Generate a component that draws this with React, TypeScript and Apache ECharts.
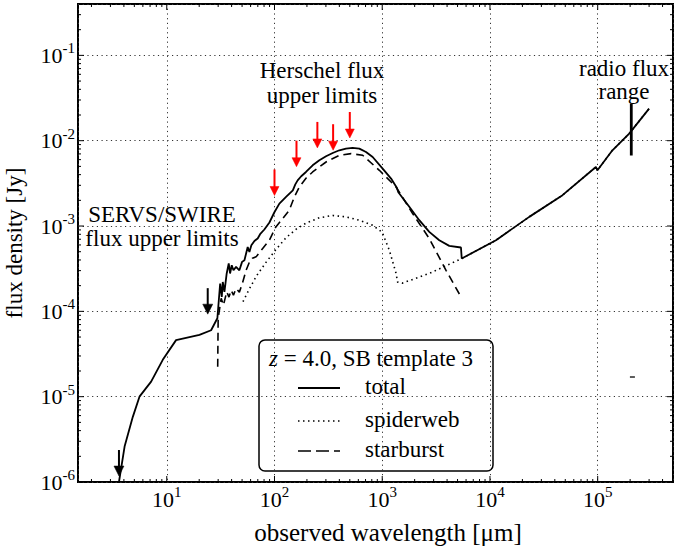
import React, { useEffect, useRef } from 'react';
import * as echarts from 'echarts';

const FONT = 'Liberation Serif';
const font = (size: number, italic = false) => `${italic ? 'italic ' : ''}${size}px Liberation Serif`;

// ---------- data (wavelength in micron, flux density in Jy) ----------
const totalWavelength = [
  3.6, 4.06, 4.84, 5.58, 7.16, 9.18, 12.2, 20.1, 25.8, 29.5,
  31.3, 32.4, 33.1, 34.3, 36.0, 37.6, 38.7, 40.1, 41.6, 44.0,
  47.2, 50.0, 52.6, 54.5, 56.4, 58.5, 61.0, 65.1, 69.8, 73.5,
  80.5, 89.7, 99.8, 111, 128, 148, 156, 164, 177, 196,
  226, 261, 301, 347, 400, 461, 531, 613, 707, 815,
  1009, 1208, 1366, 1410, 1783, 2207, 2733, 3385, 4190, 5380,
  5470, 11370, 23150, 47150, 96200, 99500, 137000, 196000, 300000,
];
const totalFlux = [
  1.0e-6, 2.6e-6, 5.8e-6, 1.0e-5, 1.5e-5, 2.7e-5, 4.6e-5, 5.3e-5, 6.0e-5, 8.3e-5,
  2.12e-4, 1.48e-4, 2.21e-4, 1.69e-4, 2.78e-4, 3.64e-4, 2.78e-4, 3.47e-4, 3.03e-4, 3.32e-4,
  3.03e-4, 3.8e-4, 3.98e-4, 4.77e-4, 5.69e-4, 4.97e-4, 5.96e-4, 6.69e-4, 7.14e-4, 8.02e-4,
  9.1e-4, 1.1e-3, 1.45e-3, 1.83e-3, 2.19e-3, 2.62e-3, 3.08e-3, 3.43e-3, 3.83e-3, 4.3e-3,
  5.15e-3, 5.89e-3, 6.56e-3, 7.18e-3, 7.72e-3, 8.08e-3, 8.22e-3, 8.08e-3, 7.38e-3, 6.44e-3,
  4.71e-3, 3.6e-3, 2.81e-3, 2.49e-3, 1.68e-3, 1.17e-3, 8.53e-4, 6.82e-4, 5.85e-4, 5.6e-4,
  4.16e-4, 6.82e-4, 1.28e-3, 2.3e-3, 4.92e-3, 4.5e-3, 7.72e-3, 1.21e-2, 2.38e-2,
];

const starburstWavelength = [
  29.7, 30.0, 32.0, 33.6, 36.0, 37.8, 39.6, 41.6, 44.0, 47.2,
  50.4, 54.5, 58.5, 62.4, 67.5, 77.7, 89.7, 103, 119, 137,
  153, 170, 196, 226, 301, 400, 514, 658, 940, 1343,
  1916, 2733, 3909, 5380,
];
const starburstFlux = [
  2.24e-5, 8.3e-5, 1.42e-4, 1.18e-4, 1.69e-4, 1.47e-4, 1.77e-4, 1.55e-4, 1.85e-4, 1.68e-4,
  2.14e-4, 3.03e-4, 3.77e-4, 4.2e-4, 4.35e-4, 5.46e-4, 6.82e-4, 9.76e-4, 1.22e-3, 1.53e-3,
  2.19e-3, 2.87e-3, 3.63e-3, 4.3e-3, 5.63e-3, 6.75e-3, 7.06e-3, 6.75e-3, 4.5e-3, 2.87e-3,
  1.4e-3, 7.14e-4, 3.03e-4, 1.48e-4,
];

const spiderwebWavelength = [
  51, 58, 68, 84, 103, 128, 159, 196, 261, 347,
  461, 613, 815, 1000, 1164, 1343, 1389, 1536, 2733, 5470,
  11370, 23150, 47150, 96200, 99500, 137000, 196000, 300000,
];
const spiderwebFlux = [
  1.3e-4, 1.8e-4, 2.6e-4, 3.8e-4, 5.3e-4, 7.3e-4, 9.2e-4, 1.08e-3, 1.25e-3, 1.33e-3,
  1.28e-3, 1.17e-3, 1.02e-3, 8.45e-4, 5.2e-4, 2.8e-4, 2.2e-4, 2.14e-4, 2.78e-4, 4.16e-4,
  6.82e-4, 1.28e-3, 2.3e-3, 4.92e-3, 4.5e-3, 7.72e-3, 1.21e-2, 2.38e-2,
];

const herschelWavelength = [100, 160, 250, 350, 500];
const herschelLimit = [4.6e-3, 1.0e-2, 1.66e-2, 1.56e-2, 2.17e-2];

const servsWavelength = [3.6, 24];
const servsLimit = [2.37e-6, 1.87e-4];

const radioWavelength = [2.05e5, 2.05e5];
const radioRange = [6.7e-3, 2.72e-2];

const radioPointWavelength = [2.1e5];
const radioPointFlux = [1.7e-5];

const xMajorTicks = [10, 100, 1000, 10000, 100000];
const yMajorTicks = [1e-6, 1e-5, 1e-4, 1e-3, 1e-2, 1e-1];
const X_MIN = 1.5;
const X_MAX = 5e5;
const Y_MIN = 1e-6;
const Y_MAX = 0.4;

const legendTitle = '{i|z}{n| = 4.0, SB template 3}';
const legendItems = ['total', 'spiderweb', 'starburst'];

// ---------- helpers ----------
const zip = (a: number[], b: number[]) => a.map((v, i) => [v, b[i]]);

function minorValues(lo: number, hi: number) {
  const out: number[] = [];
  for (let e = -7; e <= 6; e++) {
    for (let m = 2; m <= 9; m++) {
      const v = m * Math.pow(10, e);
      if (v > lo && v < hi) out.push(v);
    }
  }
  return out;
}

const tickData: number[][] = [];
xMajorTicks.forEach((v) => tickData.push([v, 1e-3, 0]));
minorValues(X_MIN, X_MAX).forEach((v) => tickData.push([v, 1e-3, 1]));
yMajorTicks.forEach((v) => tickData.push([10, v, 2]));
minorValues(Y_MIN, Y_MAX).forEach((v) => tickData.push([10, v, 3]));

const powLabel = (v: number) => {
  const e = Math.log10(v);
  const r = Math.round(e);
  if (Math.abs(e - r) > 1e-6) return '';
  return `{b|10}{s|${r}}`;
};

const labelRich = {
  b: { fontFamily: FONT, fontSize: 22, lineHeight: 22, color: '#000', verticalAlign: 'middle' },
  s: { fontFamily: FONT, fontSize: 15, lineHeight: 15, color: '#000', verticalAlign: 'middle', padding: [0, 0, 14, 0] },
};

function arrowRenderer(color: string, headW: number, headH: number, lw: number) {
  return (params: any, api: any) => {
    const p = api.coord([api.value(0), api.value(1)]);
    const len = 26;
    const tipY = p[1] + len;
    return {
      type: 'group',
      children: [
        {
          type: 'line',
          shape: { x1: p[0], y1: p[1], x2: p[0], y2: tipY - headH + 1 },
          style: { stroke: color, lineWidth: lw },
        },
        {
          type: 'polygon',
          shape: { points: [[p[0] - headW / 2, tipY - headH], [p[0] + headW / 2, tipY - headH], [p[0], tipY]] },
          style: { fill: color, stroke: color, lineWidth: 0.5 },
        },
      ],
    };
  };
}

const textStyle = (text: string, size: number, extra: any = {}) => ({
  text, font: font(size), fill: '#000', ...extra,
});

export default function App() {
  const ref = useRef<HTMLDivElement>(null);

  useEffect(() => {
    if (!ref.current) return;
    const chart = echarts.init(ref.current, null, { renderer: 'svg' });

    const axisCommon = {
      axisLine: { show: false },
      axisTick: { show: false },
      splitLine: { show: true, lineStyle: { type: [1.2, 3.5], color: '#333', width: 1 } },
    };

    const option: any = {
      animation: false,
      backgroundColor: '#fff',
      grid: {
        left: 78, right: 1, top: 4, bottom: 67,
        show: true, borderColor: '#000', borderWidth: 2, backgroundColor: 'transparent',
      },
      xAxis: {
        type: 'log', logBase: 10, min: X_MIN, max: X_MAX,
        ...axisCommon,
        axisLabel: { margin: 6, formatter: powLabel, rich: labelRich, showMinLabel: false, showMaxLabel: false },
      },
      yAxis: {
        type: 'log', logBase: 10, min: Y_MIN, max: Y_MAX,
        ...axisCommon,
        axisLabel: { margin: 3, formatter: powLabel, rich: labelRich, showMaxLabel: false },
      },
      series: [
        {
          name: 'spiderweb', type: 'line', data: zip(spiderwebWavelength, spiderwebFlux),
          symbol: 'none', z: 2, clip: true,
          lineStyle: { color: '#000', width: 1.6, type: [1.5, 3.5] },
        },
        {
          name: 'starburst', type: 'line', data: zip(starburstWavelength, starburstFlux),
          symbol: 'none', z: 2, clip: true,
          lineStyle: { color: '#000', width: 1.6, type: [8, 5] },
        },
        {
          name: 'total', type: 'line', data: zip(totalWavelength, totalFlux),
          symbol: 'none', z: 3, clip: true,
          lineStyle: { color: '#000', width: 1.8, type: 'solid' },
        },
        {
          name: 'radio range', type: 'line', data: zip(radioWavelength, radioRange),
          symbol: 'none', z: 4, lineStyle: { color: '#000', width: 2.8 },
        },
        {
          name: 'radio point', type: 'scatter', data: zip(radioPointWavelength, radioPointFlux),
          symbol: 'rect', symbolSize: [5, 1.6], itemStyle: { color: '#000' }, z: 4,
        },
        {
          name: 'Herschel', type: 'custom', data: zip(herschelWavelength, herschelLimit),
          renderItem: arrowRenderer('#ff0000', 9, 9, 2), z: 5, clip: false,
        },
        {
          name: 'SERVS', type: 'custom', data: zip(servsWavelength, servsLimit),
          renderItem: arrowRenderer('#000', 10, 10, 2), z: 5, clip: false,
        },
        {
          name: 'ticks', type: 'custom', data: tickData, z: 6, clip: false, silent: true,
          renderItem: (params: any, api: any) => {
            const cs = params.coordSys;
            const kind = api.value(2);
            const p = api.coord([api.value(0), api.value(1)]);
            const len = kind % 2 === 0 ? 6 : 3;
            const st = { stroke: '#000', lineWidth: 1 };
            if (kind < 2) {
              const x = p[0];
              return {
                type: 'group',
                children: [
                  { type: 'line', shape: { x1: x, y1: cs.y + cs.height, x2: x, y2: cs.y + cs.height - len }, style: st },
                  { type: 'line', shape: { x1: x, y1: cs.y, x2: x, y2: cs.y + len }, style: st },
                ],
              };
            }
            const y = p[1];
            return {
              type: 'group',
              children: [
                { type: 'line', shape: { x1: cs.x, y1: y, x2: cs.x + len, y2: y }, style: st },
                { type: 'line', shape: { x1: cs.x + cs.width, y1: y, x2: cs.x + cs.width - len, y2: y }, style: st },
              ],
            };
          },
        },
      ],
      graphic: [
        {
          type: 'text', x: 14, y: 243, rotation: Math.PI / 2,
          style: textStyle('flux density [Jy]', 23, { align: 'center', verticalAlign: 'middle' }),
        },
        {
          type: 'text', x: 388, y: 532,
          style: textStyle('observed wavelength [μm]', 25, { align: 'center', verticalAlign: 'middle' }),
        },
        {
          type: 'text', x: 322, y: 83, z: 10,
          style: textStyle('Herschel flux\nupper limits', 23, { lineHeight: 25, align: 'center', verticalAlign: 'middle' }),
        },
        {
          type: 'text', x: 162, y: 226, z: 10,
          style: textStyle('SERVS/SWIRE\nflux upper limits', 23, { lineHeight: 24, align: 'center', verticalAlign: 'middle' }),
        },
        {
          type: 'text', x: 624, y: 80, z: 10,
          style: textStyle('radio flux\nrange', 23, { lineHeight: 23, align: 'center', verticalAlign: 'middle' }),
        },
        {
          type: 'group', z: 20,
          children: [
            {
              type: 'rect', shape: { x: 259, y: 340, width: 234, height: 131, r: 6 },
              style: { fill: '#fff', stroke: '#000', lineWidth: 1.5 },
            },
            {
              type: 'text', x: 269, y: 358,
              style: {
                text: legendTitle, align: 'left', verticalAlign: 'middle',
                rich: {
                  i: { font: font(23, true), fill: '#000' },
                  n: { font: font(23), fill: '#000' },
                },
              },
            },
            { type: 'line', shape: { x1: 298, y1: 388, x2: 340, y2: 388 }, style: { stroke: '#000', lineWidth: 1.8 } },
            { type: 'line', shape: { x1: 298, y1: 421, x2: 340, y2: 421 }, style: { stroke: '#000', lineWidth: 1.6, lineDash: [1.5, 3.5] } },
            { type: 'line', shape: { x1: 298, y1: 451, x2: 340, y2: 451 }, style: { stroke: '#000', lineWidth: 1.6, lineDash: [13, 5] } },
            ...legendItems.map((t, i) => ({
              type: 'text', x: 365, y: [386, 419, 449][i],
              style: textStyle(t, 23, { align: 'left', verticalAlign: 'middle' }),
            })),
          ],
        },
      ],
    };

    chart.setOption(option);
    return () => chart.dispose();
  }, []);

  return (
    <div
      ref={ref}
      style={{ position: 'fixed', left: 0, top: 0, width: 674, height: 549, background: '#fff' }}
    />
  );
}
